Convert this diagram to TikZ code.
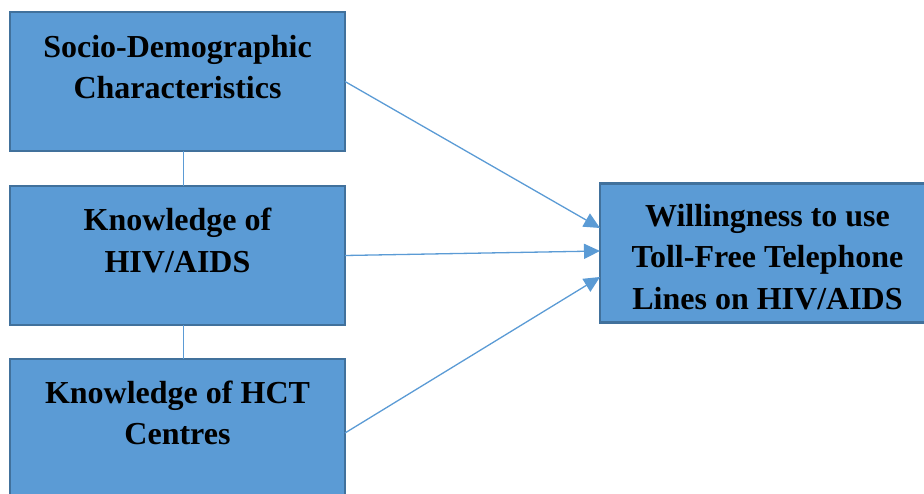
\documentclass[tikz,border=0pt]{standalone}
\usepackage{fontspec}
\setmainfont{Liberation Serif}
\usetikzlibrary{arrows.meta}
\definecolor{boxfill}{HTML}{5B9BD5}
\definecolor{boxline}{HTML}{41719C}
\begin{document}
\begin{tikzpicture}[x=1pt,y=-1pt,
  box/.style={draw=boxline,fill=boxfill,line width=2.2pt,minimum width=335pt,minimum height=139pt,inner sep=0pt,outer sep=0pt},
  lbl/.style={align=center,font=\bfseries\fontsize{32}{41.5}\selectfont,inner sep=0pt},
  conn/.style={draw=boxfill,line width=1.3pt},
  arr/.style={conn,-{Triangle[length=16pt,width=15pt]}}]
\useasboundingbox (0,0) rectangle (924,494);
\begin{scope}
\clip (0,0) rectangle (924,494);
\node[box] (b1) at (177.5,81.5) {};
\node[box] (b2) at (177.5,255.5) {};
\node[box] (b3) at (177.5,428.5) {};
\node[box] (b4) at (767.5,253) {};
\end{scope}
\node[lbl] (t1) at (177.5,67) {Socio-Demographic\\Characteristics};
\node[lbl] (t2) at (177.5,240.5) {Knowledge of\\HIV/AIDS};
\node[lbl] (t3) at (177.5,413) {Knowledge of HCT\\Centres};
\node[lbl] (t4) at (767.5,257) {Willingness to use\\Toll-Free Telephone\\Lines on HIV/AIDS};
\coordinate (vx) at (183.5,0);
\draw[conn] (b1.south -| vx) -- (b2.north -| vx);
\draw[conn] (b2.south -| vx) -- (b3.north -| vx);
\coordinate (e1) at (601,228);
\coordinate (e2) at (601,251);
\coordinate (e3) at (601,277);
\coordinate (s3) at (345,433);
\draw[arr] (b1.east) -- (b4.west |- e1);
\draw[arr] (b2.east) -- (b4.west |- e2);
\draw[arr] (b3.east |- s3) -- (b4.west |- e3);
\end{tikzpicture}
\end{document}
